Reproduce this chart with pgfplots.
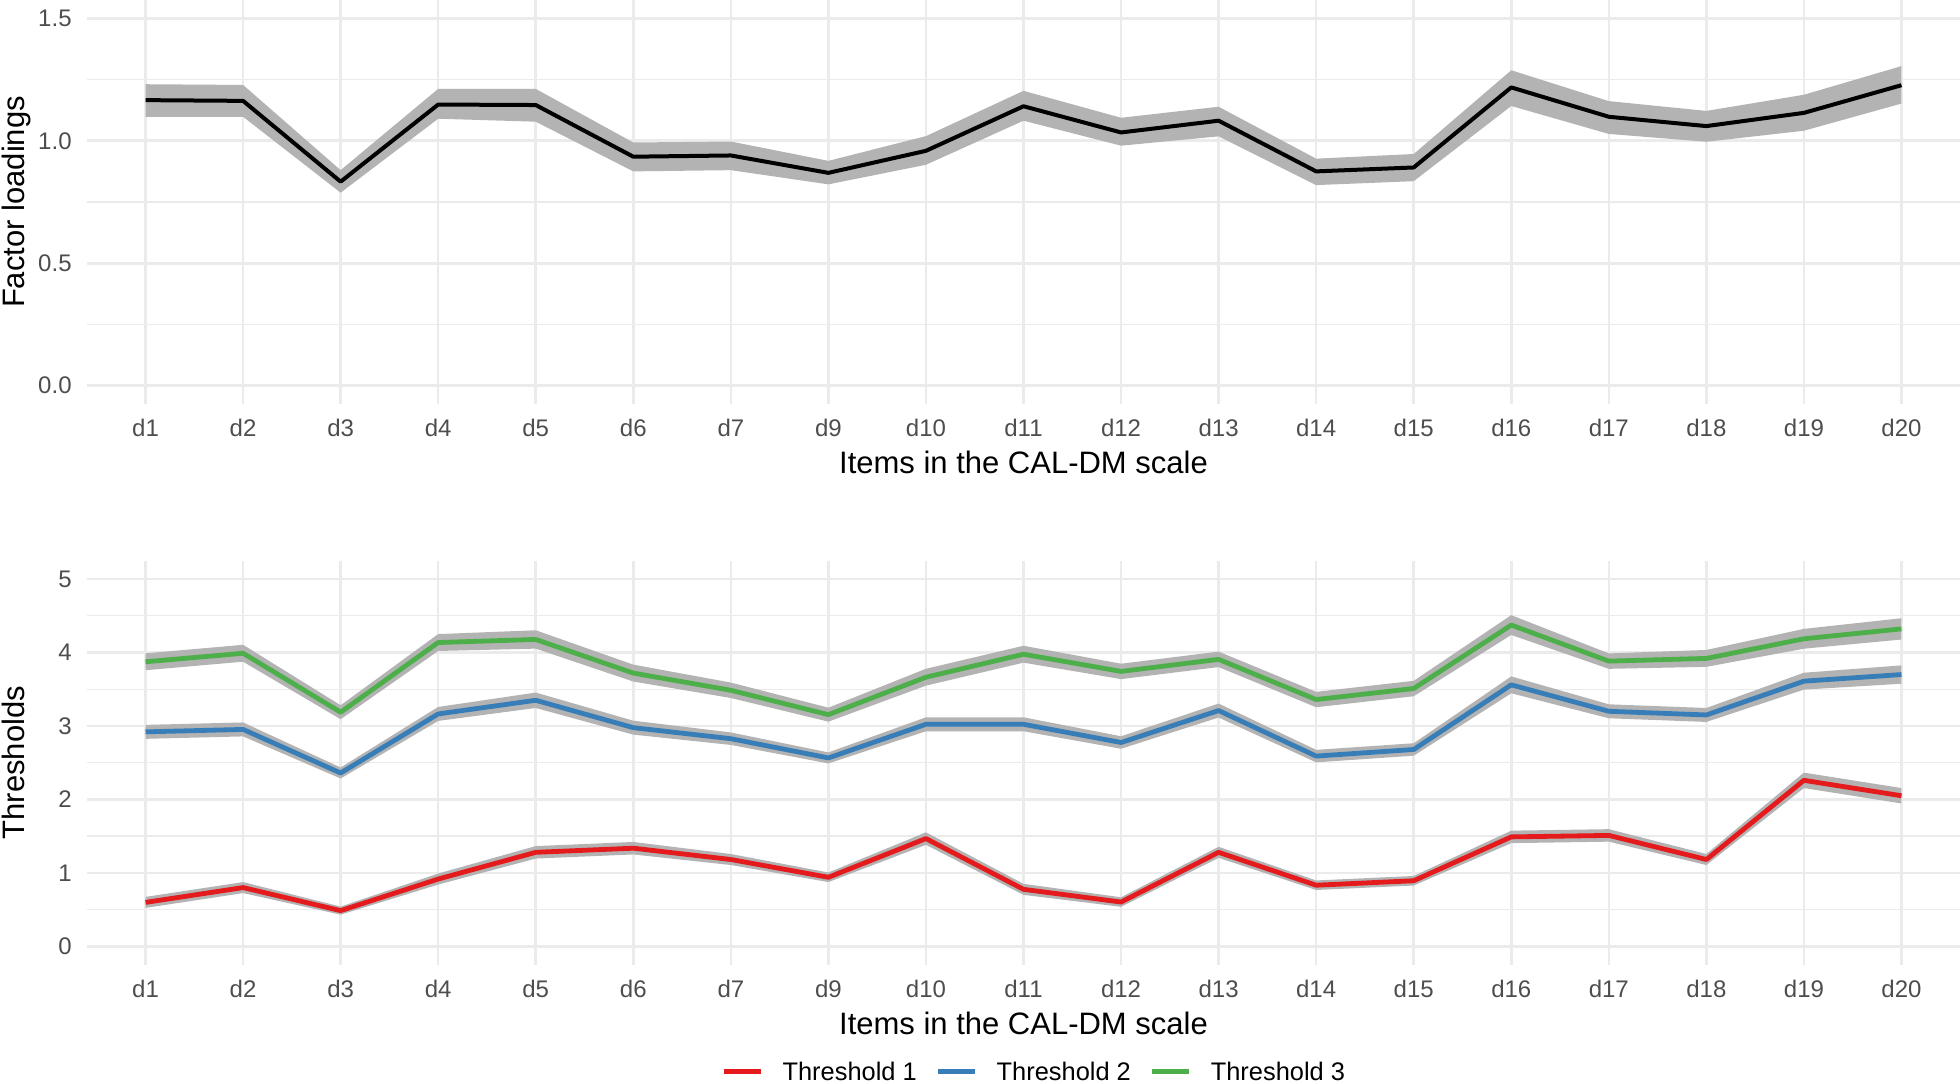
\documentclass[border=0pt]{standalone}
\usepackage{fontspec}
\setmainfont{Liberation Sans}
\usepackage{pgfplots}
\pgfplotsset{compat=1.18}
\usepackage{pgfplotstable}
\usepgfplotslibrary{fillbetween}

\definecolor{gridgray}{HTML}{EBEBEB}
\definecolor{bandgray}{HTML}{B3B3B3}
\definecolor{ticktext}{HTML}{4D4D4D}
\definecolor{tred}{HTML}{E41A1C}
\definecolor{tblue}{HTML}{377EB8}
\definecolor{tgreen}{HTML}{4DAF4A}

% factor loadings: estimate and band
\pgfplotstableread{
i  est    lo     hi
0  1.166  1.098  1.231
1  1.163  1.098  1.228
2  0.833  0.788  0.880
3  1.148  1.090  1.212
4  1.146  1.078  1.212
5  0.935  0.875  0.993
6  0.940  0.880  0.997
7  0.869  0.822  0.918
8  0.959  0.902  1.019
9  1.141  1.082  1.204
10 1.034  0.980  1.094
11 1.082  1.018  1.139
12 0.875  0.819  0.927
13 0.891  0.835  0.946
14 1.218  1.142  1.288
15 1.098  1.028  1.162
16 1.060  0.996  1.122
17 1.114  1.041  1.188
18 1.227  1.152  1.305
}\loadings

% threshold 1
\pgfplotstableread{
i  est    lo     hi
0  0.598  0.523  0.673
1  0.800  0.725  0.875
2  0.486  0.431  0.541
3  0.916  0.841  0.991
4  1.280  1.195  1.365
5  1.336  1.251  1.421
6  1.182  1.107  1.257
7  0.940  0.875  1.005
8  1.467  1.382  1.552
9  0.776  0.701  0.851
10 0.603  0.538  0.668
11 1.280  1.205  1.355
12 0.832  0.767  0.897
13 0.893  0.828  0.958
14 1.490  1.405  1.575
15 1.510  1.425  1.595
16 1.182  1.107  1.257
17 2.260  2.155  2.365
18 2.050  1.945  2.155
}\thrA

% threshold 2
\pgfplotstableread{
i  est    lo     hi
0  2.920  2.825  3.015
1  2.953  2.858  3.048
2  2.360  2.285  2.435
3  3.164  3.069  3.259
4  3.350  3.245  3.455
5  2.977  2.882  3.072
6  2.827  2.742  2.912
7  2.565  2.490  2.640
8  3.023  2.928  3.118
9  3.023  2.928  3.118
10 2.775  2.690  2.860
11 3.210  3.115  3.305
12 2.590  2.505  2.675
13 2.680  2.595  2.765
14 3.560  3.445  3.675
15 3.200  3.105  3.295
16 3.150  3.055  3.245
17 3.610  3.495  3.725
18 3.700  3.575  3.825
}\thrB

% threshold 3
\pgfplotstableread{
i  est    lo     hi
0  3.874  3.759  3.989
1  3.990  3.875  4.105
2  3.187  3.092  3.282
3  4.136  4.021  4.251
4  4.178  4.053  4.303
5  3.720  3.605  3.835
6  3.486  3.381  3.591
7  3.154  3.059  3.249
8  3.664  3.549  3.779
9  3.977  3.862  4.092
10 3.743  3.638  3.848
11 3.907  3.802  4.012
12 3.360  3.255  3.465
13 3.510  3.405  3.615
14 4.374  4.239  4.509
15 3.883  3.778  3.988
16 3.920  3.805  4.035
17 4.187  4.052  4.322
18 4.322  4.177  4.467
}\thrC

\pgfplotsset{
  ggpanel/.style={
    scale only axis, width=936.5pt, height=202pt,
    xmin=-0.6, xmax=18.6, xtick={0,...,18},
    xticklabels={d1,d2,d3,d4,d5,d6,d7,d9,d10,d11,d12,d13,d14,d15,d16,d17,d18,d19,d20},
    axis line style={draw=none}, tick style={draw=none},
    xmajorgrids, ymajorgrids, yminorgrids, minor y tick num=1,
    major grid style={gridgray, line width=1.3pt},
    minor grid style={gridgray, line width=0.7pt},
    tick label style={font=\fontsize{12}{14}\selectfont, text=ticktext},
    xticklabel style={inner sep=0pt, yshift=-7.3pt},
    yticklabel style={inner sep=0pt, xshift=-7.5pt},
    label style={font=\fontsize{15.5}{18}\selectfont, inner sep=0pt},
    xlabel={Items in the CAL-DM scale},
    xlabel style={at={(axis description cs:0.5,-0.1163)}, anchor=north},
    ylabel style={at={(axis description cs:-0.04538,0.5)}, anchor=north},
  },
  band/.style={fill=bandgray, draw=none, forget plot},
}

\begin{document}
\begin{tikzpicture}

% top panel: factor loadings
\begin{axis}[ggpanel, at={(43.5pt,339.5pt)}, anchor=south west,
  ymin=-0.075, ymax=1.575, ytick={0,0.5,1,1.5},
  yticklabels={0.0,0.5,1.0,1.5},
  ylabel={Factor loadings}]
\addplot[draw=none, name path=loLd, forget plot] table[x=i, y=lo] {\loadings};
\addplot[draw=none, name path=hiLd, forget plot] table[x=i, y=hi] {\loadings};
\addplot[band] fill between[of=loLd and hiLd];
\addplot[black, line width=2pt, line join=round] table[x=i, y=est] {\loadings};
\end{axis}

% bottom panel: thresholds
\begin{axis}[ggpanel, at={(43.5pt,59.15pt)}, anchor=south west,
  ymin=-0.25, ymax=5.25, ytick={0,1,2,3,4,5},
  yticklabels={0,1,2,3,4,5},
  ylabel={Thresholds},
  legend columns=3,
  legend image code/.code={\draw[#1] (0pt,0pt) -- (18.5pt,0pt);},
  legend style={at={(axis description cs:0.3386,-0.2650)}, anchor=west,
    draw=none, fill=none, inner sep=0pt,
    nodes={inner sep=0pt, text depth=0pt},
    font=\fontsize{12.7}{14}\selectfont,
    /tikz/every odd column/.append style={column sep=9.6pt},
    /tikz/every even column/.append style={column sep=9.5pt}},
  legend cell align=left]
\addplot[draw=none, name path=loA, forget plot] table[x=i, y=lo] {\thrA};
\addplot[draw=none, name path=hiA, forget plot] table[x=i, y=hi] {\thrA};
\addplot[band] fill between[of=loA and hiA];
\addplot[draw=none, name path=loB, forget plot] table[x=i, y=lo] {\thrB};
\addplot[draw=none, name path=hiB, forget plot] table[x=i, y=hi] {\thrB};
\addplot[band] fill between[of=loB and hiB];
\addplot[draw=none, name path=loC, forget plot] table[x=i, y=lo] {\thrC};
\addplot[draw=none, name path=hiC, forget plot] table[x=i, y=hi] {\thrC};
\addplot[band] fill between[of=loC and hiC];
\addplot[tred, line width=2.4pt, line join=round] table[x=i, y=est] {\thrA};
\addplot[tblue, line width=2.4pt, line join=round] table[x=i, y=est] {\thrB};
\addplot[tgreen, line width=2.4pt, line join=round] table[x=i, y=est] {\thrC};
\legend{Threshold 1, Threshold 2, Threshold 3}
\end{axis}

\pgfresetboundingbox
\path[use as bounding box] (0,0) rectangle (980pt,541.5pt);
\end{tikzpicture}
\end{document}
